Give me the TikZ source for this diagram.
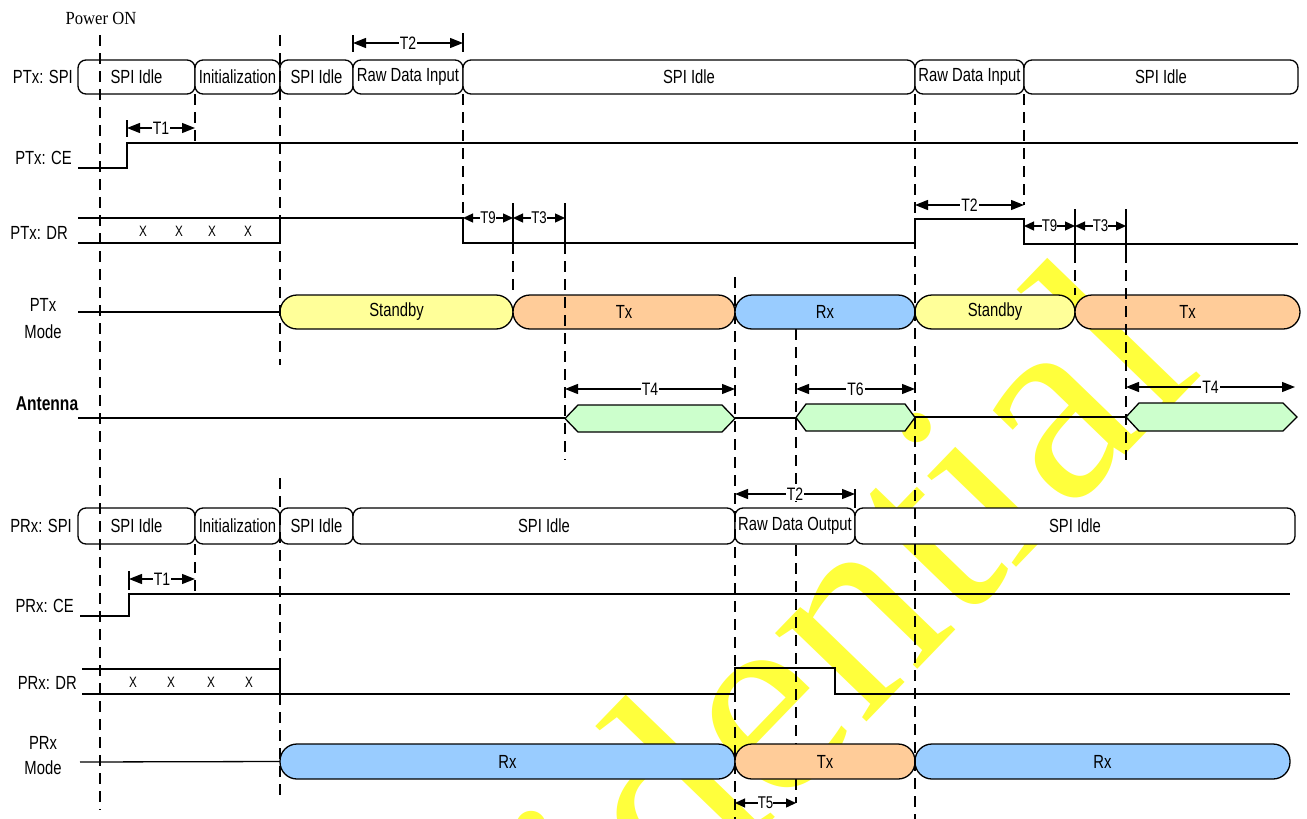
\documentclass[tikz,border=0pt]{standalone}
\usepackage{fontspec}
\setmainfont{Liberation Sans}[FakeStretch=0.78]
\newfontfamily\pwrfont{Liberation Serif}[FakeStretch=0.9]
\newfontfamily\wmfont{Liberation Serif}
\usetikzlibrary{arrows.meta}
\definecolor{cyel}{HTML}{FFFF99}
\definecolor{corg}{HTML}{FFCC99}
\definecolor{cblu}{HTML}{99CCFF}
\definecolor{cgrn}{HTML}{CCFFCC}
\definecolor{wmyel}{RGB}{255,255,60}
\newcommand\bx[7]{\node[#5, minimum width={(#3-#2)*1pt}, minimum height=#6] (#1) at ({(#2+#3)/2},#4) {#7};}
\tikzset{
  sig/.style={line width=1.3pt, line join=miter},
  vdash/.style={line width=1.7pt, dash pattern=on 11pt off 7pt},
  spibox/.style={draw, line width=1.3pt, fill=white, rounded corners=8pt, inner sep=0pt, outer sep=0pt},
  modebox/.style={draw, line width=1.3pt, rounded corners=17pt, inner sep=0pt, outer sep=0pt},
  hexa/.style={draw, line width=1.3pt, fill=cgrn},
  dim/.style={line width=1.3pt, {Triangle[length=13pt,width=10pt]}-{Triangle[length=13pt,width=10pt]}},
  dims/.style={line width=1.3pt, {Triangle[length=10pt,width=9pt]}-{Triangle[length=10pt,width=9pt]}},
  lbl/.style={fill=white, inner sep=1pt, font=\fontsize{18}{20}\selectfont},
  lbls/.style={fill=white, inner sep=0pt, font=\fontsize{17}{19}\selectfont},
  side/.style={anchor=east, inner sep=0pt, font=\fontsize{19}{21}\selectfont},
  xm/.style={inner sep=0pt, font=\fontsize{15}{16}\selectfont},
  every node/.append style={font=\fontsize{19}{21}\selectfont}
}
\begin{document}
\begin{tikzpicture}[x=1pt,y=-1pt]
\useasboundingbox (0,0) rectangle (1307,819);
\begin{scope}
\clip (0,0) rectangle (1307,819);
\node[rotate=46, anchor=base east, inner sep=0pt, text=wmyel, font=\wmfont\fontsize{277}{277}\selectfont] (wm) at (1205,372) {Confidential};
\end{scope}

% dashed line hidden behind boxes
\draw[vdash] (796,329) -- (796,803);

% ---------- PTx SPI ----------
\bx{ts1}{78}{195}{77}{spibox}{34pt}{SPI Idle}
\bx{ts2}{195}{280}{77}{spibox}{34pt}{Initialization}
\bx{ts3}{280}{353}{77}{spibox}{34pt}{SPI Idle}
\bx{ts4}{353}{463}{77}{spibox}{34pt}{Raw Data Input}
\bx{ts5}{463}{915}{77}{spibox}{34pt}{SPI Idle}
\bx{ts6}{915}{1024}{77}{spibox}{34pt}{Raw Data Input}
\bx{ts7}{1024}{1298}{77}{spibox}{34pt}{SPI Idle}

% ---------- PTx Mode ----------
\bx{tm1}{280}{513}{312}{modebox,fill=cyel}{34pt}{Standby}
\bx{tm2}{513}{735}{312}{modebox,fill=corg}{34pt}{Tx}
\bx{tm3}{735}{915}{312}{modebox,fill=cblu}{34pt}{Rx}
\bx{tm4}{915}{1075}{312}{modebox,fill=cyel}{34pt}{Standby}
\bx{tm5}{1075}{1300}{312}{modebox,fill=corg}{34pt}{Tx}

% ---------- PRx SPI ----------
\bx{rs1}{78}{195}{526}{spibox}{36pt}{SPI Idle}
\bx{rs2}{195}{280}{526}{spibox}{36pt}{Initialization}
\bx{rs3}{280}{353}{526}{spibox}{36pt}{SPI Idle}
\bx{rs4}{353}{735}{526}{spibox}{36pt}{SPI Idle}
\bx{rs5}{735}{855}{526}{spibox}{36pt}{Raw Data Output}
\bx{rs6}{855}{1295}{526}{spibox}{36pt}{SPI Idle}

% ---------- PRx Mode ----------
\bx{rm1}{280}{735}{761.5}{modebox,fill=cblu}{35pt}{Rx}
\bx{rm2}{735}{915}{761.5}{modebox,fill=corg}{35pt}{Tx}
\bx{rm3}{915}{1290}{761.5}{modebox,fill=cblu}{35pt}{Rx}

% ---------- signals ----------
\draw[sig] (78,168) -- (127,168) -- (127,143) -- (1298,143);
\draw[sig] (78,218) -- (463,218) -- (463,243) -- (915,243) -- (915,219) -- (1024,219) -- (1024,244) -- (1298,244);
\draw[sig] (78,243) -- (280,243) -- (280,218);
\foreach \i/\xx in {1/143,2/179,3/212,4/248} \node[xm] (tx\i) at (\xx,231) {X};
\draw[sig] (78,312) -- (tm1.west);

\draw[sig] (78,418) -- (565,418);
\draw[hexa] (565,418.5) -- (578,405) -- (722,405) -- (735,418.5) -- (722,432) -- (578,432) -- cycle;
\draw[sig] (735,418) -- (796,418);
\draw[hexa] (796,417.5) -- (806,404) -- (905,404) -- (915,417.5) -- (905,431) -- (806,431) -- cycle;
\draw[sig] (915,417) -- (1126,417);
\draw[hexa] (1126,417) -- (1139,403) -- (1283,403) -- (1297,417) -- (1283,431) -- (1139,431) -- cycle;

\draw[sig] (80,616) -- (129,616) -- (129,594) -- (1290,594);
\draw[sig] (82,669) -- (280,669) -- (280,694);
\draw[sig] (82,694) -- (735,694) -- (735,668) -- (835,668) -- (835,694) -- (1290,694);
\foreach \i/\xx in {1/133,2/171,3/211,4/249} \node[xm] (rx\i) at (\xx,682) {X};
\draw[sig] (80,762) -- (rm1.west);

% ---------- dimension arrows ----------
\draw[sig] (353,35) -- (353,52);
\draw[sig] (463,33) -- (463,52);
\draw[dim] (353,43) -- node[lbl] (lt2a) {T2} (463,43);
\draw[sig] (127,120) -- (127,137);
\draw[dim] (127,128) -- node[lbl] (lt1a) {T1} (195,128);
\draw[sig] (513,203) -- (513,243);
\draw[sig] (565,203) -- (565,243);
\draw[dims] (463,218) -- node[lbls] (lt9a) {T9} (513,218);
\draw[dims] (513,218) -- node[lbls] (lt3a) {T3} (565,218);
\draw[dim] (915,205) -- node[lbl] (lt2b) {T2} (1024,205);
\draw[sig] (1075,209) -- (1075,252);
\draw[sig] (1126,209) -- (1126,252);
\draw[dims] (1024,226) -- node[lbls] (lt9b) {T9} (1075,226);
\draw[dims] (1075,226) -- node[lbls] (lt3b) {T3} (1126,226);
\draw[dim] (565,389) -- node[lbl] (lt4a) {T4} (735,389);
\draw[dim] (796,389) -- node[lbl] (lt6) {T6} (915,389);
\draw[dim] (1126,387) -- node[lbl] (lt4b) {T4} (1295,387);
\draw[sig] (855,489) -- (855,508);
\draw[dim] (735,494) -- node[lbl] (lt2c) {T2} (855,494);
\draw[sig] (129,571) -- (129,590);
\draw[dim] (129,579) -- node[lbl] (lt1b) {T1} (195,579);
\draw[dims] (735,803) -- node[lbls] (lt5) {T5} (796,803);

% ---------- dashed markers ----------
\draw[vdash] (100,35) -- (100,810);
\draw[vdash] (280,35) -- (280,365);
\draw[vdash] (280,478) -- (280,797);
\draw[vdash] (195,94) -- (195,143);
\draw[vdash] (195,544) -- (195,594);
\draw[vdash] (463,94) -- (463,218);
\draw[vdash] (513,243) -- (513,295);
\draw[vdash] (565,243) -- (565,460);
\draw[vdash] (735,277) -- (735,819);
\draw[vdash] (915,94) -- (915,819);
\draw[vdash] (1024,94) -- (1024,205);
\draw[vdash] (1075,252) -- (1075,295);
\draw[vdash] (1126,252) -- (1126,460);

% ---------- labels ----------
\node[font=\pwrfont\fontsize{18.5}{20}\selectfont, inner sep=0pt] (pwr) at (101,18) {Power ON};
\node[side] (lptspi) at (73,77) {PTx: SPI};
\node[side] (lptce) at (72,158) {PTx: CE};
\node[side] (lptdr) at (68,233) {PTx: DR};
\node[align=center, inner sep=0pt, font=\fontsize{19}{27}\selectfont] (lptmode) at (43,319) {PTx\\Mode};
\node[inner sep=0pt, font=\bfseries\fontsize{20}{22}\selectfont] (lant) at (47,404) {Antenna};
\node[side] (lprspi) at (72,526) {PRx: SPI};
\node[side] (lprce) at (74,606) {PRx: CE};
\node[side] (lprdr) at (77,683) {PRx: DR};
\node[align=center, inner sep=0pt, font=\fontsize{19}{25}\selectfont] (lprmode) at (43,756) {PRx\\Mode};
\end{tikzpicture}
\end{document}
